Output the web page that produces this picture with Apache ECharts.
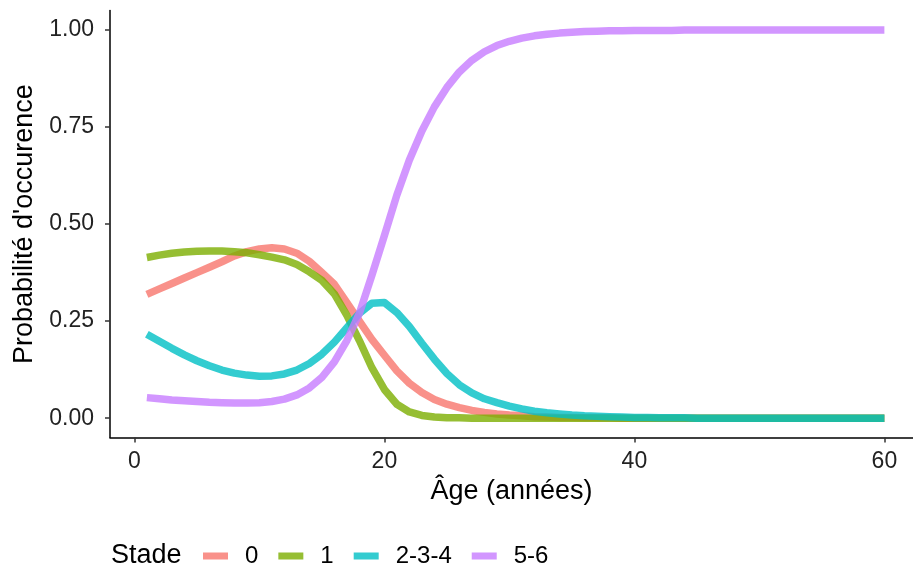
<!DOCTYPE html>
<html>
<head>
<meta charset="utf-8">
<script src="https://cdn.jsdelivr.net/npm/echarts@6/dist/echarts.min.js"></script>
<style>html,body{margin:0;padding:0;background:#fff}#c{width:913px;height:568px}</style>
</head>
<body>
<div id="c"></div>
<script>
var ages = [1,2,3,4,5,6,7,8,9,10,11,12,13,14,15,16,17,18,19,20,21,22,23,24,25,26,27,28,29,30,31,32,33,34,35,36,37,38,39,40,41,42,43,44,45,46,47,48,49,50,51,52,53,54,55,56,57,58,59,60];
var stade0 = [0.319,0.333,0.347,0.361,0.375,0.389,0.403,0.418,0.429,0.436,
  0.439,0.436,0.425,0.404,0.375,0.345,0.298,0.250,0.203,0.162,
  0.122,0.090,0.066,0.048,0.036,0.027,0.020,0.015,0.011,0.008,
  0.006,0.004,0.003,0.002,0.002,0.001,0.001,0.001,0,0,
  0,0,0,0,0,0,0,0,0,0,0,0,0,0,0,0,0,0,0,0];
var stade1 = [0.414,0.420,0.425,0.428,0.430,0.431,0.431,0.429,0.426,0.421,
  0.415,0.408,0.396,0.377,0.355,0.320,0.265,0.200,0.130,0.074,
  0.036,0.016,0.007,0.003,0.001,0.001,0,0,0,0,
  0,0,0,0,0,0,0,0,0,0,0,0,0,0,0,0,0,0,0,0,0,0,0,0,0,0,0,0,0,0];
var stade234 = [0.216,0.198,0.180,0.163,0.148,0.135,0.124,0.116,0.111,0.108,
  0.109,0.114,0.124,0.141,0.165,0.196,0.233,0.270,0.296,0.298,
  0.272,0.236,0.193,0.152,0.115,0.086,0.065,0.050,0.040,0.031,
  0.024,0.018,0.014,0.011,0.008,0.006,0.005,0.004,0.003,0.002,
  0.002,0.001,0.001,0.001,0,0,0,0,0,0,0,0,0,0,0,0,0,0,0,0];
var stade56 = [0.053,0.050,0.047,0.045,0.043,0.041,0.040,0.039,0.039,0.040,
  0.043,0.049,0.060,0.078,0.105,0.145,0.200,0.270,0.368,0.470,
  0.575,0.665,0.740,0.802,0.852,0.892,0.922,0.944,0.960,0.971,
  0.979,0.985,0.989,0.992,0.994,0.996,0.997,0.998,0.998,0.999,
  0.999,0.999,0.999,1,1,1,1,1,1,1,1,1,1,1,1,1,1,1,1,1];
var seriesNames = ['0','1','2-3-4','5-6'];
var seriesValues = [stade0, stade1, stade234, stade56];
var colors = ['rgba(248,118,109,0.8)','rgba(124,174,0,0.8)','rgba(0,191,196,0.8)','rgba(199,124,255,0.8)'];
var xTicks = [0,20,40,60];
var yTicks = [0,0.25,0.5,0.75,1];

var FONT = '"Liberation Sans", Arial, sans-serif';
var chart = echarts.init(document.getElementById('c'), null, {renderer:'canvas'});
var series = seriesNames.map(function(n,i){
  return {
    name:n, type:'line', showSymbol:false, symbol:'none', smooth:false,
    data: ages.map(function(a,j){return [a, seriesValues[i][j]];}),
    lineStyle:{width:7.5, color:colors[i], join:'round', cap:'butt'},
    itemStyle:{color:colors[i]},
    emphasis:{disabled:true}, animation:false
  };
});
chart.setOption({
  animation:false,
  backgroundColor:'#fff',
  grid:{left:110, top:10.6, right:0, height:427, containLabel:false},
  xAxis:{
    type:'value', min:-1.95, max:62.29,
    name:'Âge (années)', nameLocation:'middle', nameGap:40,
    nameTextStyle:{fontFamily:FONT, fontSize:27, color:'#000'},
    axisLine:{show:true, onZero:false, lineStyle:{color:'#000', width:1.5}},
    axisTick:{show:true, length:5, customValues:xTicks, lineStyle:{color:'#333', width:1.5}},
    axisLabel:{customValues:xTicks, margin:13, fontFamily:FONT, fontSize:23, color:'#222'},
    splitLine:{show:false}
  },
  yAxis:{
    type:'value', min:-0.05, max:1.05,
    name:"Probabilité d'occurence", nameLocation:'middle', nameGap:72,
    nameTextStyle:{fontFamily:FONT, fontSize:27, color:'#000'},
    axisLine:{show:true, onZero:false, lineStyle:{color:'#000', width:1.5}},
    axisTick:{show:true, length:5, customValues:yTicks, lineStyle:{color:'#333', width:1.5}},
    axisLabel:{customValues:yTicks, margin:16, fontFamily:FONT, fontSize:23, color:'#222',
      formatter:function(v){return v.toFixed(2);}},
    splitLine:{show:false}
  },
  legend:{
    data:seriesNames, left:203, top:544, padding:0, orient:'horizontal',
    icon:'rect', itemWidth:25, itemHeight:7, itemGap:20,
    textStyle:{fontFamily:FONT, fontSize:24, color:'#000', padding:[0,0,0,12]},
    selectedMode:false
  },
  graphic:[{type:'text', left:111, top:542, style:{text:'Stade', font:'27px ' + FONT, fill:'#000'}}],
  series:series
});
</script>
</body>
</html>
